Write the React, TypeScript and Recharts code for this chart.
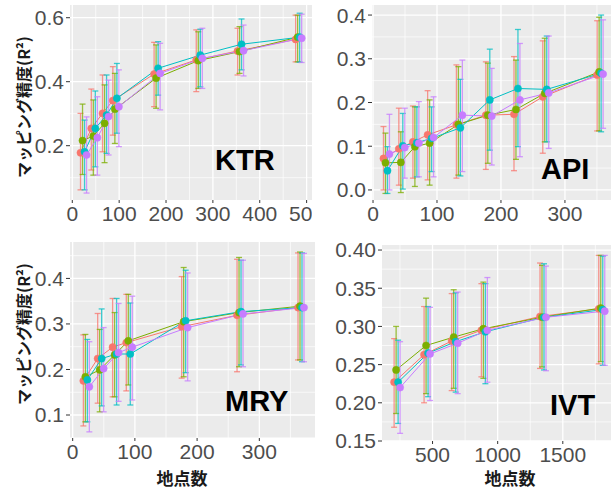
import { CartesianGrid, ComposedChart, ErrorBar, Line, XAxis, YAxis } from "recharts"

// series colours (ggplot default hues), order: red, green, cyan, purple
const colors = ["#F8766D", "#7CAE00", "#00BFC4", "#C77CFF"]

// ---- KTR ----
const ktrX = [24, 47, 71, 93, 181, 271, 359, 483]
const ktrMean = [
  [0.178, 0.254, 0.301, 0.341, 0.424, 0.468, 0.496, 0.532],
  [0.216, 0.23, 0.27, 0.314, 0.411, 0.466, 0.494, 0.539],
  [0.181, 0.254, 0.296, 0.348, 0.442, 0.483, 0.517, 0.539],
  [0.171, 0.225, 0.291, 0.322, 0.426, 0.473, 0.497, 0.536],
]
const ktrLow = [
  [0.062, 0.124, 0.181, 0.233, 0.322, 0.369, 0.421, 0.462],
  [0.11, 0.108, 0.147, 0.207, 0.317, 0.379, 0.426, 0.462],
  [0.062, 0.134, 0.176, 0.239, 0.358, 0.384, 0.437, 0.461],
  [0.052, 0.108, 0.171, 0.197, 0.312, 0.379, 0.418, 0.46],
]
const ktrHigh = [
  [0.301, 0.377, 0.421, 0.447, 0.523, 0.562, 0.567, 0.608],
  [0.33, 0.343, 0.39, 0.426, 0.515, 0.556, 0.572, 0.608],
  [0.28, 0.371, 0.421, 0.457, 0.525, 0.564, 0.596, 0.614],
  [0.29, 0.353, 0.405, 0.437, 0.52, 0.567, 0.577, 0.611],
]

// ---- API ----
const apiX = [21, 45, 67, 90, 135, 181, 225, 270, 355]
const apiMean = [
  [0.072, 0.094, 0.11, 0.126, 0.149, 0.171, 0.173, 0.213, 0.263],
  [0.062, 0.063, 0.099, 0.107, 0.15, 0.171, 0.184, 0.221, 0.27],
  [0.044, 0.101, 0.108, 0.118, 0.142, 0.206, 0.232, 0.23, 0.267],
  [0.082, 0.097, 0.107, 0.12, 0.171, 0.169, 0.206, 0.222, 0.265],
]
const apiLow = [
  [0.0, 0.011, 0.027, 0.023, 0.027, 0.047, 0.044, 0.084, 0.135],
  [-0.008, -0.006, 0.008, 0.011, 0.034, 0.061, 0.07, 0.11, 0.135],
  [-0.008, 0.002, 0.03, 0.042, 0.032, 0.091, 0.099, 0.11, 0.133],
  [0.0, 0.027, 0.03, 0.03, 0.042, 0.057, 0.076, 0.095, 0.141],
]
const apiHigh = [
  [0.145, 0.187, 0.192, 0.227, 0.286, 0.293, 0.305, 0.341, 0.387],
  [0.13, 0.133, 0.19, 0.206, 0.282, 0.29, 0.297, 0.347, 0.395],
  [0.099, 0.175, 0.19, 0.19, 0.253, 0.322, 0.367, 0.352, 0.4],
  [0.173, 0.187, 0.202, 0.213, 0.297, 0.278, 0.335, 0.352, 0.389],
]

// ---- MRY ----
const mryX = [22, 45, 69, 91, 180, 269, 367]
const mryMean = [
  [0.175, 0.224, 0.249, 0.259, 0.294, 0.319, 0.336],
  [0.184, 0.199, 0.232, 0.263, 0.305, 0.325, 0.339],
  [0.177, 0.224, 0.234, 0.234, 0.307, 0.327, 0.336],
  [0.162, 0.202, 0.237, 0.249, 0.292, 0.322, 0.336],
]
const mryLow = [
  [0.076, 0.126, 0.14, 0.153, 0.181, 0.195, 0.221],
  [0.085, 0.107, 0.14, 0.166, 0.184, 0.206, 0.221],
  [0.085, 0.12, 0.122, 0.122, 0.193, 0.21, 0.217],
  [0.063, 0.107, 0.13, 0.133, 0.175, 0.206, 0.217],
]
const mryHigh = [
  [0.276, 0.323, 0.356, 0.365, 0.404, 0.442, 0.456],
  [0.277, 0.288, 0.325, 0.365, 0.424, 0.446, 0.458],
  [0.266, 0.333, 0.356, 0.346, 0.418, 0.44, 0.456],
  [0.261, 0.292, 0.345, 0.361, 0.412, 0.44, 0.455],
]

// ---- IVT ----
const ivtX = [228, 458, 670, 898, 1348, 1799]
const ivtMean = [
  [0.227, 0.263, 0.281, 0.295, 0.313, 0.323],
  [0.243, 0.275, 0.286, 0.297, 0.312, 0.324],
  [0.227, 0.265, 0.28, 0.293, 0.312, 0.322],
  [0.22, 0.264, 0.278, 0.295, 0.312, 0.32],
]
const ivtLow = [
  [0.168, 0.2, 0.216, 0.234, 0.245, 0.251],
  [0.186, 0.212, 0.219, 0.232, 0.247, 0.254],
  [0.173, 0.208, 0.214, 0.225, 0.243, 0.249],
  [0.16, 0.203, 0.212, 0.227, 0.242, 0.249],
]
const ivtHigh = [
  [0.284, 0.326, 0.343, 0.356, 0.383, 0.393],
  [0.3, 0.337, 0.348, 0.358, 0.38, 0.393],
  [0.282, 0.326, 0.344, 0.356, 0.382, 0.392],
  [0.28, 0.325, 0.345, 0.364, 0.379, 0.393],
]

const tickFont = { fill: "#4D4D4D", fontSize: 21, fontFamily: "'Liberation Sans', Arial, sans-serif" }
const jpFont = "'Noto Sans CJK JP', 'Noto Sans', sans-serif"

type PanelProps = {
  box: number[] // plot area: left, top, right, bottom (page px)
  xDomain: number[]
  yDomain: number[]
  xTicks: number[]
  xMinor: number[]
  yTicks: number[]
  yMinor: number[]
  yDigits: number
  xs: number[]
  mean: number[][]
  low: number[][]
  high: number[][]
  dodge: number
}

function Panel(p: PanelProps) {
  const YW = 70
  const MT = 12
  const XH = 30
  const offsets = [-1.5, -0.5, 0.5, 1.5]
  const series = colors.map((c, s) =>
    p.xs.map((x, i) => ({
      x: x + offsets[s] * p.dodge,
      y: p.mean[s][i],
      err: [p.mean[s][i] - p.low[s][i], p.high[s][i] - p.mean[s][i]],
    }))
  )
  return (
    <div style={{ position: "absolute", left: p.box[0] - YW, top: p.box[1] - MT }}>
      <ComposedChart
        width={p.box[2] - p.box[0] + YW}
        height={MT + p.box[3] - p.box[1] + XH}
        margin={{ top: MT, right: 0, bottom: 0, left: 0 }}
      >
        <CartesianGrid fill="#EBEBEB" fillOpacity={1} stroke="#FFFFFF" strokeWidth={0.7} horizontalValues={p.yMinor} verticalValues={p.xMinor} />
        <CartesianGrid stroke="#FFFFFF" strokeWidth={1.3} horizontalValues={p.yTicks} verticalValues={p.xTicks} />
        <XAxis
          type="number"
          dataKey="x"
          domain={p.xDomain}
          allowDataOverflow
          ticks={p.xTicks}
          interval={0}
          height={XH}
          tickSize={3}
          tickMargin={3}
          axisLine={false}
          tickLine={{ stroke: "#333333" }}
          tick={tickFont}
        />
        <YAxis
          type="number"
          domain={p.yDomain}
          allowDataOverflow
          ticks={p.yTicks}
          interval={0}
          width={YW}
          tickSize={4}
          tickMargin={2}
          axisLine={false}
          tickLine={{ stroke: "#333333" }}
          tick={tickFont}
          tickFormatter={(v: number) => v.toFixed(p.yDigits)}
        />
        {series.map((d, s) => (
          <Line
            key={s}
            data={d}
            dataKey="y"
            type="linear"
            stroke={colors[s]}
            strokeWidth={1}
            dot={{ r: 3.6, fill: colors[s], stroke: colors[s], strokeWidth: 0.5 }}
            activeDot={false}
            isAnimationActive={false}
          >
            <ErrorBar dataKey="err" width={3} stroke={colors[s]} strokeWidth={1.3} strokeOpacity={0.75} direction="y" isAnimationActive={false} />
          </Line>
        ))}
      </ComposedChart>
    </div>
  )
}

function PanelTag({ text, x, y }: { text: string; x: number; y: number }) {
  return (
    <div
      style={{
        position: "absolute",
        left: x,
        top: y,
        transform: "translateY(-50%)",
        fontFamily: "'Liberation Sans', Arial, sans-serif",
        fontWeight: 700,
        fontSize: 29,
        color: "#000",
        lineHeight: 1,
      }}
    >
      {text}
    </div>
  )
}

function YTitle({ x, y }: { x: number; y: number }) {
  return (
    <div
      style={{
        position: "absolute",
        left: x,
        top: y,
        transform: "translate(-50%, -50%) rotate(-90deg)",
        whiteSpace: "nowrap",
        fontFamily: jpFont,
        fontWeight: 700,
        fontSize: 16,
        color: "#1a1a1a",
        lineHeight: 1,
      }}
    >
      マッピング精度(R²)
    </div>
  )
}

function XTitle({ x, y }: { x: number; y: number }) {
  return (
    <div
      style={{
        position: "absolute",
        left: x,
        top: y,
        transform: "translate(-50%, -50%)",
        whiteSpace: "nowrap",
        fontFamily: jpFont,
        fontWeight: 700,
        fontSize: 17,
        color: "#1a1a1a",
        lineHeight: 1,
      }}
    >
      地点数
    </div>
  )
}

export default function App() {
  return (
    <div style={{ position: "absolute", left: 0, top: 0, width: 611, height: 488, background: "#fff", overflow: "hidden" }}>
      <Panel
        box={[70, 5, 312, 200]}
        xDomain={[-4.9, 511.5]}
        yDomain={[0.0303, 0.6397]}
        xTicks={[0, 100, 200, 300, 400, 500]}
        xMinor={[50, 150, 250, 350, 450]}
        yTicks={[0.2, 0.4, 0.6]}
        yMinor={[0.1, 0.3, 0.5]}
        yDigits={1}
        xs={ktrX}
        mean={ktrMean}
        low={ktrLow}
        high={ktrHigh}
        dodge={4.3}
      />
      <Panel
        box={[372, 5, 611, 200]}
        xDomain={[-1.6, 372]}
        yDomain={[-0.023, 0.423]}
        xTicks={[0, 100, 200, 300]}
        xMinor={[50, 150, 250, 350]}
        yTicks={[0, 0.1, 0.2, 0.3, 0.4]}
        yMinor={[0.05, 0.15, 0.25, 0.35]}
        yDigits={1}
        xs={apiX}
        mean={apiMean}
        low={apiLow}
        high={apiHigh}
        dodge={3.1}
      />
      <Panel
        box={[70, 242, 315, 438]}
        xDomain={[-4.3, 389.5]}
        yDomain={[0.0495, 0.48]}
        xTicks={[0, 100, 200, 300]}
        xMinor={[50, 150, 250, 350]}
        yTicks={[0.1, 0.2, 0.3, 0.4]}
        yMinor={[0.05, 0.15, 0.25, 0.35, 0.45]}
        yDigits={1}
        xs={mryX}
        mean={mryMean}
        low={mryLow}
        high={mryHigh}
        dodge={3.2}
      />
      <Panel
        box={[382, 245, 611, 441]}
        xDomain={[112, 1870]}
        yDomain={[0.15, 0.4066]}
        xTicks={[500, 1000, 1500]}
        xMinor={[250, 750, 1250, 1750]}
        yTicks={[0.15, 0.2, 0.25, 0.3, 0.35, 0.4]}
        yMinor={[0.175, 0.225, 0.275, 0.325, 0.375]}
        yDigits={2}
        xs={ivtX}
        mean={ivtMean}
        low={ivtLow}
        high={ivtHigh}
        dodge={15.3}
      />
      <PanelTag text="KTR" x={215} y={160} />
      <PanelTag text="API" x={541} y={169} />
      <PanelTag text="MRY" x={225} y={401} />
      <PanelTag text="IVT" x={550} y={405} />
      <YTitle x={23} y={107} />
      <YTitle x={23} y={334} />
      <XTitle x={182} y={477} />
      <XTitle x={510} y={477} />
    </div>
  )
}
